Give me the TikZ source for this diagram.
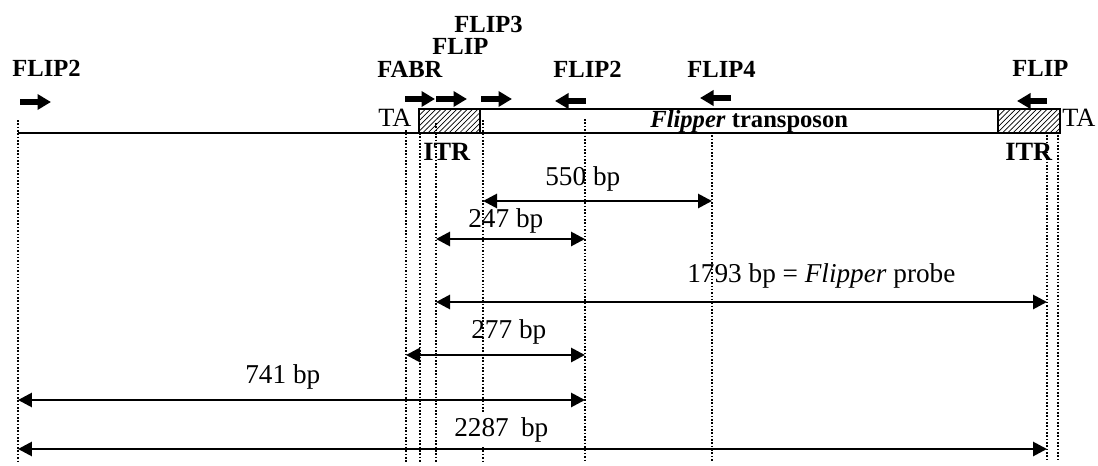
\documentclass[tikz,border=0pt]{standalone}
\usepackage{fontspec}
\setmainfont{Liberation Serif}
\usetikzlibrary{arrows.meta,patterns}

\begin{document}
\begin{tikzpicture}[x=0.02cm,y=-0.02cm,
primer/.style={line width=0.12cm,-{Triangle[length=0.27cm,width=0.3cm]}},
dim/.style={line width=1.6pt,{Triangle[length=0.28cm,width=0.28cm]}-{Triangle[length=0.28cm,width=0.28cm]}},
guide/.style={densely dotted,line width=0.9pt},
itr/.style={draw,line width=1.1pt,pattern=north east lines},
dna/.style={line width=1.1pt},
pname/.style={font=\fontsize{14}{16}\selectfont\bfseries,inner sep=0pt,anchor=base west},
bp/.style={font=\fontsize{15.5}{18}\selectfont,inner sep=0pt,anchor=base west}
]
\useasboundingbox (0,0) rectangle (1098,466);

% dotted guide lines
\coordinate (gL) at (18,120);
\coordinate (gFABR) at (406,130);
\coordinate (gITR) at (420,133);
\coordinate (gFLIP) at (436,123);
\coordinate (gFLIP3) at (483,120);
\coordinate (gFLIP2) at (585,119);
\coordinate (gFLIP4) at (712,132);
\coordinate (gR) at (1047,135);
\coordinate (gTA) at (1058,135);
\coordinate (bot) at (0,462);
\draw[guide] (gL) -- (gL |- bot);
\draw[guide] (gFABR) -- (gFABR |- bot);
\draw[guide] (gITR) -- (gITR |- bot);
\draw[guide] (gFLIP) -- (gFLIP |- bot);
\draw[guide] (gFLIP3) -- (gFLIP3 |- bot);
\draw[guide] (gFLIP2) -- (gFLIP2 |- bot);
\draw[guide] (gFLIP4) -- (gFLIP4 |- bot);
\draw[guide] (gR) -- (gR |- bot);
\draw[guide] (gTA) -- (gTA |- bot);

% genomic DNA and transposon
\draw[dna] (18,133) -- (998,133);
\draw[dna] (480,109) -- (998,109);
\draw[itr] (419,109) rectangle (480,133);
\draw[itr] (998,109) rectangle (1060,133);
\node[font=\fontsize{14}{16}\selectfont\bfseries,inner sep=0pt,anchor=base west] (tn) at (650,128) {\textit{Flipper} transposon};
\node[font=\fontsize{15}{18}\selectfont,inner sep=0pt,anchor=base west] (taL) at (378,127) {TA};
\node[font=\fontsize{15}{18}\selectfont,inner sep=0pt,anchor=base west] (taR) at (1062,127) {TA};
\node[font=\fontsize{15}{18}\selectfont\bfseries,inner sep=0pt,anchor=base west] (itrL) at (423,160) {ITR};
\node[font=\fontsize{15}{18}\selectfont\bfseries,inner sep=0pt,anchor=base west] (itrR) at (1005,160) {ITR};

% primers
\node[pname] (pFLIP2a) at (12,77) {FLIP2};
\node[pname] (pFABR) at (377,78) {FABR};
\node[pname] (pFLIP) at (432,55) {FLIP};
\node[pname] (pFLIP3) at (454,33) {FLIP3};
\node[pname] (pFLIP2b) at (553,78) {FLIP2};
\node[pname] (pFLIP4) at (687,78) {FLIP4};
\node[pname] (pFLIPr) at (1012,77) {FLIP};
\coordinate (aFLIP2a) at (20,102);
\coordinate (aFABR) at (405,99);
\coordinate (aFLIP) at (436,99);
\coordinate (aFLIP3) at (481,99);
\coordinate (aFLIP2b) at (586,101);
\coordinate (aFLIP4) at (731,98);
\coordinate (aFLIPr) at (1047,101);
\draw[primer] (aFLIP2a) -- ++(31,0);
\draw[primer] (aFABR) -- ++(30,0);
\draw[primer] (aFLIP) -- ++(31,0);
\draw[primer] (aFLIP3) -- ++(31,0);
\draw[primer] (aFLIP2b) -- ++(-31,0);
\draw[primer] (aFLIP4) -- ++(-31,0);
\draw[primer] (aFLIPr) -- ++(-30,0);

% PCR products
\coordinate (y550) at (0,201);
\coordinate (y247) at (0,239);
\coordinate (y1793) at (0,302);
\coordinate (y277) at (0,355);
\coordinate (y741) at (0,400);
\coordinate (y2287) at (0,449);
\draw[dim] (gFLIP3 |- y550) -- (gFLIP4 |- y550);
\draw[dim] (gFLIP |- y247) -- (gFLIP2 |- y247);
\draw[dim] (gFLIP |- y1793) -- (gR |- y1793);
\draw[dim] (gFABR |- y277) -- (gFLIP2 |- y277);
\draw[dim] (gL |- y741) -- (gFLIP2 |- y741);
\draw[dim] (gL |- y2287) -- (gR |- y2287);
\node[bp] (l550) at (545,185) {550 bp};
\node[bp] (l247) at (468,227) {247 bp};
\node[bp] (l1793) at (687,282) {1793 bp = \textit{Flipper} probe};
\node[bp] (l277) at (471,338) {277 bp};
\node[bp] (l741) at (245,383) {741 bp};
\node[bp,fill=white,inner ysep=2pt] (l2287) at (454,436) {2287\hspace{0.45em}bp};
\end{tikzpicture}
\end{document}
